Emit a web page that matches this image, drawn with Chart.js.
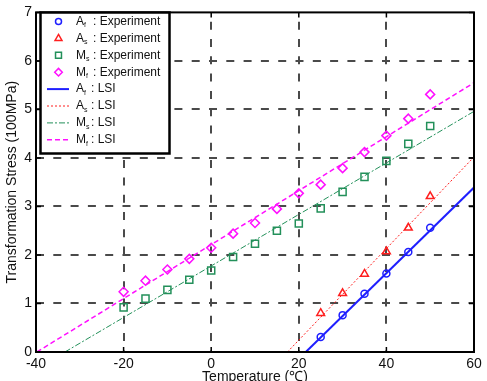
<!DOCTYPE html>
<html>
<head>
<meta charset="utf-8">
<script src="https://cdn.jsdelivr.net/npm/chart.js@4"></script>
<style>
  html, body { margin: 0; padding: 0; background: #fff; }
  canvas { display: block; }
</style>
</head>
<body>
<canvas id="chart" width="487" height="381"></canvas>
<script>
// Austenite data (experiment)
const tempsA = [25, 30, 35, 40, 45, 50];
const afExp = [0.31, 0.76, 1.20, 1.62, 2.06, 2.56];
const asExp = [0.80, 1.21, 1.61, 2.07, 2.56, 3.21];

// Martensite data (experiment)
const tempsM = [-20, -15, -10, -5, 0, 5, 10, 15, 20, 25, 30, 35, 40, 45, 50];
const msExp = [0.92, 1.10, 1.28, 1.49, 1.68, 1.96, 2.23, 2.50, 2.65, 2.96, 3.30, 3.61, 3.94, 4.29, 4.66];
const mfExp = [1.24, 1.47, 1.70, 1.92, 2.15, 2.44, 2.66, 2.95, 3.27, 3.45, 3.79, 4.12, 4.46, 4.81, 5.31];

// LSI fit lines, end points
const afLsiX = [21.6, 60], afLsiY = [0, 3.39];
const asLsiX = [17.4, 60], asLsiY = [0, 4.02];
const msLsiX = [-33.4, 60], msLsiY = [0, 4.96];
const mfLsiX = [-39.8, 60], mfLsiY = [0, 5.55];

const xTicks = [-40, -20, 0, 20, 40, 60];
const yTicks = [0, 1, 2, 3, 4, 5, 6, 7];

const BLUE = '#1f1fff';
const RED = '#ff1f1f';
const GREEN = '#23905a';
const MAGENTA = '#ff10ff';
const FONT = '"Liberation Sans", Arial, sans-serif';

const pts = (xs, ys) => xs.map((x, i) => ({ x: x, y: ys[i] }));

const legendItems = [
  { main: 'A', sub: 'f', text: ': Experiment', color: BLUE, style: 'circle', r: 3 },
  { main: 'A', sub: 's', text: ': Experiment', color: RED, style: 'triangle', r: 4 },
  { main: 'M', sub: 's', text: ': Experiment', color: GREEN, style: 'rect', r: 4.2 },
  { main: 'M', sub: 'f', text: ': Experiment', color: MAGENTA, style: 'rectRot', r: 3.8 },
  { main: 'A', sub: 'f', text: ': LSI', color: BLUE, dash: [], width: 2 },
  { main: 'A', sub: 's', text: ': LSI', color: RED, dash: [2, 2], width: 1 },
  { main: 'M', sub: 's', text: ': LSI', color: GREEN, dash: [6, 2, 2, 2], width: 1 },
  { main: 'M', sub: 'f', text: ': LSI', color: MAGENTA, dash: [5, 3], width: 1.5 }
];

// box, inner tick marks and the legend
const framePlugin = {
  id: 'frame',
  afterDraw(chart) {
    const { ctx, chartArea: a, scales } = chart;
    ctx.save();
    ctx.strokeStyle = '#000';
    ctx.lineWidth = 1.5;
    ctx.beginPath();
    xTicks.forEach(v => {
      const x = scales.x.getPixelForValue(v);
      ctx.moveTo(x, a.bottom); ctx.lineTo(x, a.bottom - 5);
      ctx.moveTo(x, a.top); ctx.lineTo(x, a.top + 5);
    });
    yTicks.forEach(v => {
      const y = scales.y.getPixelForValue(v);
      ctx.moveTo(a.left, y); ctx.lineTo(a.left + 5, y);
      ctx.moveTo(a.right, y); ctx.lineTo(a.right - 5, y);
    });
    ctx.stroke();
    ctx.lineWidth = 2;
    ctx.strokeRect(a.left, a.top, a.right - a.left, a.bottom - a.top);

    // legend
    const lx = 40.5, ly = 12.5, lw = 129, lh = 141;
    ctx.fillStyle = '#fff';
    ctx.fillRect(lx, ly, lw, lh);
    ctx.strokeStyle = '#000';
    ctx.lineWidth = 2.5;
    ctx.strokeRect(lx, ly, lw, lh);

    legendItems.forEach((it, i) => {
      const y = 21.5 + i * 16.9;
      ctx.strokeStyle = it.color;
      if (it.style) {
        ctx.lineWidth = 1.5;
        ctx.setLineDash([]);
        ctx.fillStyle = 'rgba(0,0,0,0)';
        Chart.helpers.drawPoint(ctx, { pointStyle: it.style, radius: it.r, rotation: 0, borderWidth: 1.5 }, 58.5, y);
      } else {
        ctx.lineWidth = it.width;
        ctx.setLineDash(it.dash);
        ctx.beginPath();
        ctx.moveTo(47, y); ctx.lineTo(69, y);
        ctx.stroke();
        ctx.setLineDash([]);
      }
      ctx.fillStyle = '#111';
      ctx.textBaseline = 'middle';
      ctx.textAlign = 'left';
      ctx.font = '12px ' + FONT;
      ctx.fillText(it.main, 76, y);
      const mw = ctx.measureText(it.main).width;
      ctx.font = '7px ' + FONT;
      ctx.fillText(it.sub, 76 + mw, y + 4);
      ctx.font = '12px ' + FONT;
      ctx.fillText(it.text, it.text === ': LSI' ? 91 : 93, y);
    });
    ctx.restore();
  }
};

const markerSet = (data, color, style, r) => ({
  data: data,
  showLine: false,
  pointStyle: style,
  pointRadius: r,
  pointBorderWidth: 1.5,
  pointBorderColor: color,
  pointBackgroundColor: 'rgba(0,0,0,0)',
  borderColor: color
});

const lineSet = (data, color, width, dash) => ({
  data: data,
  showLine: true,
  pointRadius: 0,
  borderColor: color,
  borderWidth: width,
  borderDash: dash,
  fill: false
});

const gridColor = c => (c.index === 0 || c.index === c.scale.ticks.length - 1) ? 'rgba(0,0,0,0)' : '#4a4a4a';

new Chart(document.getElementById('chart'), {
  type: 'scatter',
  data: {
    datasets: [
      lineSet(pts(afLsiX, afLsiY), BLUE, 2, []),
      lineSet(pts(asLsiX, asLsiY), RED, 1, [2, 2]),
      lineSet(pts(msLsiX, msLsiY), GREEN, 1, [6, 2, 2, 2]),
      lineSet(pts(mfLsiX, mfLsiY), MAGENTA, 1.5, [5, 3]),
      markerSet(pts(tempsA, afExp), BLUE, 'circle', 3.5),
      markerSet(pts(tempsA, asExp), RED, 'triangle', 4.5),
      markerSet(pts(tempsM, msExp), GREEN, 'rect', 5),
      markerSet(pts(tempsM, mfExp), MAGENTA, 'rectRot', 4.5)
    ]
  },
  options: {
    responsive: false,
    animation: false,
    layout: { padding: { top: 7, right: 13, left: 0, bottom: 0 } },
    plugins: {
      legend: { display: false },
      tooltip: { enabled: false }
    },
    scales: {
      x: {
        type: 'linear',
        min: -40,
        max: 60,
        afterBuildTicks: s => { s.ticks = xTicks.map(v => ({ value: v })); },
        afterFit: s => { s.height = 29; },
        grid: { color: gridColor, lineWidth: 2, drawTicks: false },
        border: { display: false, dash: [8, 9.3], dashOffset: 8 },
        ticks: {
          padding: 4,
          color: '#111',
          maxRotation: 0,
          font: { family: FONT, size: 14 }
        },
        title: {
          display: true,
          text: 'Temperature (℃)',
          color: '#111',
          padding: { top: 0, bottom: -5 },
          font: { family: FONT, size: 14 }
        }
      },
      y: {
        type: 'linear',
        min: 0,
        max: 7,
        afterBuildTicks: s => { s.ticks = yTicks.map(v => ({ value: v })); },
        afterFit: s => { s.width = 36; },
        grid: { color: gridColor, lineWidth: 2, drawTicks: false },
        border: { display: false, dash: [8, 9.3], dashOffset: 0 },
        ticks: {
          padding: 4,
          color: '#111',
          font: { family: FONT, size: 14 }
        },
        title: {
          display: true,
          text: 'Transformation Stress (100MPa)',
          color: '#111',
          padding: { top: 4, bottom: 0 },
          font: { family: FONT, size: 14 }
        }
      }
    }
  },
  plugins: [framePlugin]
});
</script>
</body>
</html>
